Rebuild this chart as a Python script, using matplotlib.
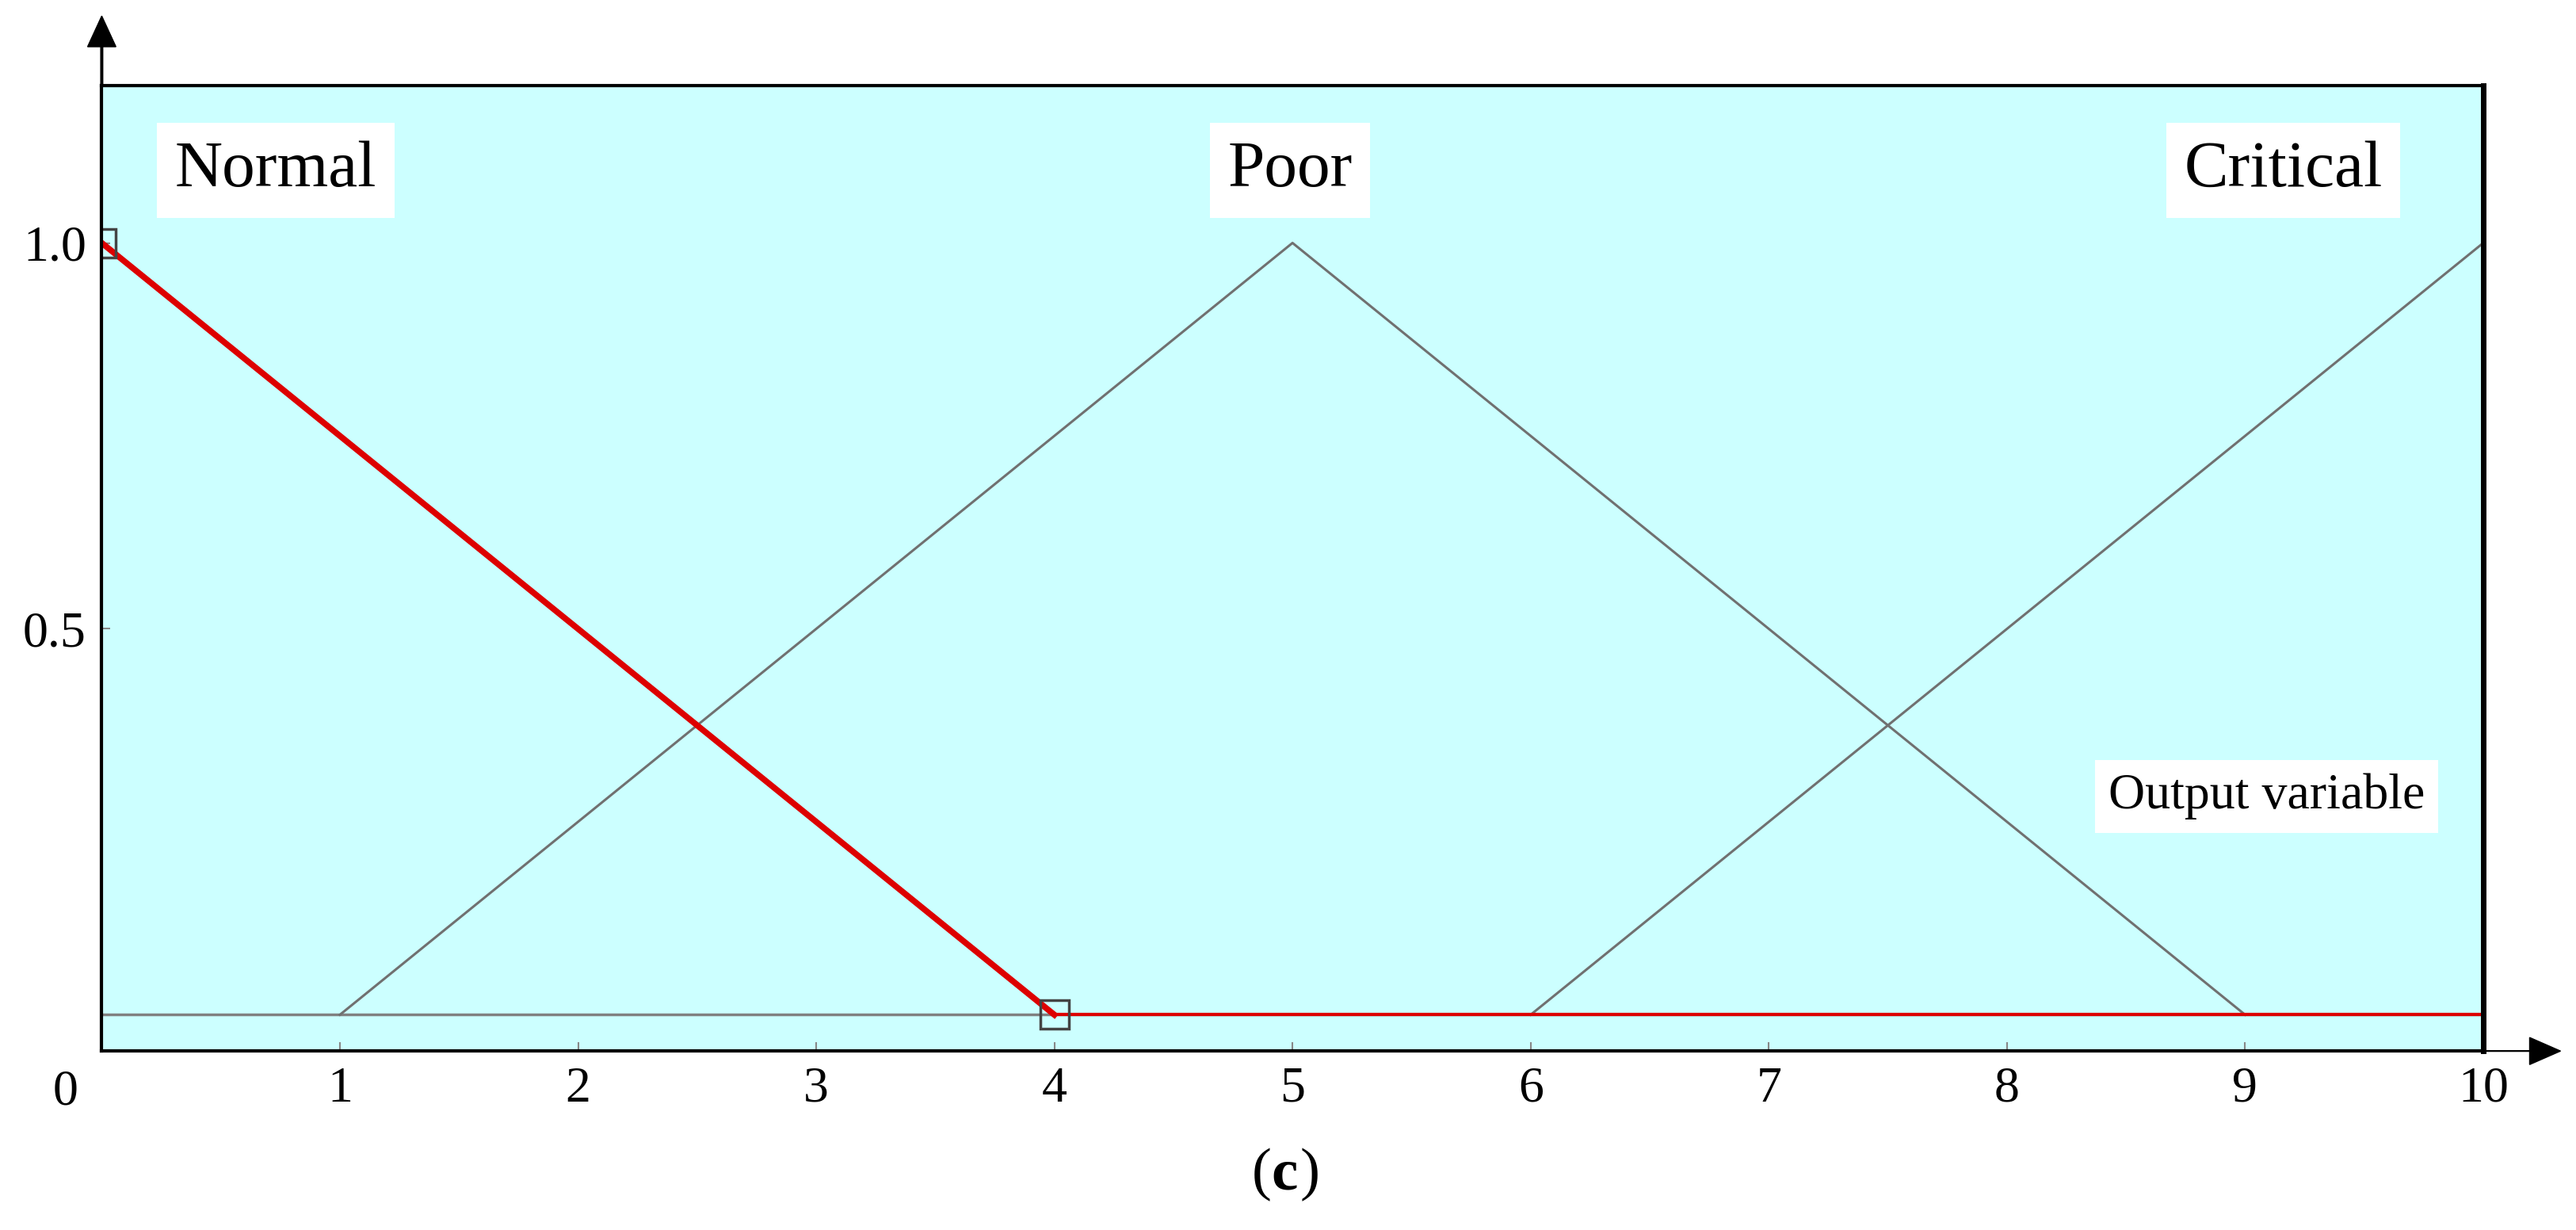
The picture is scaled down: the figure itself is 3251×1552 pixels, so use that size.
import matplotlib.pyplot as plt
import matplotlib.patches as mpatches

# membership functions (x, y)
normal_x = [0, 4]
normal_y = [1.0, 0.0]
tail_x = [4, 10]
tail_y = [0.0, 0.0]
poor_x = [1, 5, 9]
poor_y = [0.0, 1.0, 0.0]
critical_x = [6, 10]
critical_y = [0.0, 1.0]
base_x = [0, 10]
base_y = [0.0, 0.0]
labels = ['Normal', 'Poor', 'Critical']
label_x = [0.73, 4.99, 9.16]
label_y = 1.094
xticks = [1, 2, 3, 4, 5, 6, 7, 8, 9, 10]
yticks = [0.5, 1.0]

plt.rcParams['font.family'] = ['Liberation Serif', 'DejaVu Serif']
fig = plt.figure(figsize=(32.51, 15.52), dpi=100)
ax = fig.add_axes([0.0395, 0.1455, 0.9245, 0.785])
ax.set_facecolor('#ccffff')
ax.set_xlim(0, 10)
ax.set_ylim(-0.047, 1.204)

ax.plot(base_x, base_y, color='#808080', lw=2.5)
ax.plot(poor_x, poor_y, color='#707070', lw=2.2)
ax.plot(critical_x, critical_y, color='#707070', lw=2.2)
ax.plot(tail_x, tail_y, color='#dd0000', lw=3)
ax.plot(normal_x, normal_y, color='#dd0000', lw=5.5)
ax.plot(normal_x, normal_y, ls='none',
        marker='s', ms=26, mfc='none', mec='#444444', mew=2.5)

for s in ['left', 'top', 'right', 'bottom']:
    ax.spines[s].set_color('black')
    ax.spines[s].set_linewidth(3)
ax.spines['right'].set_linewidth(5)

ax.set_xticks(xticks)
ax.set_yticks(yticks)
ax.set_yticklabels(['0.5', '1.0'])
ax.tick_params(labelsize=46, length=8, width=1.5, color='#888888', direction='in', pad=14)

for t, xx in zip(labels, label_x):
    ax.text(xx, label_y, t, fontsize=60, ha='center', va='center',
            bbox=dict(facecolor='white', edgecolor='none', pad=16))
ax.text(9.09, 0.283, 'Output variable', fontsize=46, ha='center', va='center',
        bbox=dict(facecolor='white', edgecolor='none', pad=12))

# axis arrows
fig.patches.append(mpatches.FancyArrow(
    0.964, 0.1455, 0.03, 0, width=0.0005, head_width=0.022, head_length=0.012,
    length_includes_head=True, color='black', transform=fig.transFigure))
fig.patches.append(mpatches.FancyArrow(
    0.0395, 0.93, 0, 0.057, width=0.0008, head_width=0.011, head_length=0.025,
    length_includes_head=True, color='black', transform=fig.transFigure))

fig.text(0.0255, 0.112, '0', fontsize=46, ha='center', va='center')
fig.text(0.4935, 0.045, '(', fontsize=54, ha='right', va='center')
fig.text(0.4935, 0.045, 'c', fontsize=54, ha='left', va='center', weight='bold')
fig.text(0.5045, 0.045, ')', fontsize=54, ha='left', va='center')

fig.savefig('out.png', dpi=100)
